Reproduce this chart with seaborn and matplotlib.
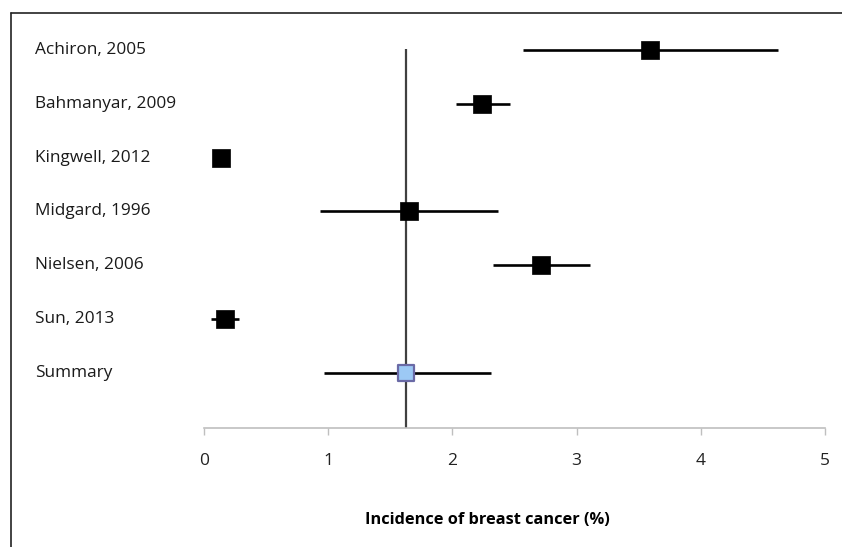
import matplotlib
matplotlib.use("Agg")
import matplotlib.pyplot as plt
import matplotlib.transforms as mtransforms
from matplotlib.lines import Line2D
import seaborn as sns
import pandas as pd

# data
studies = ["Achiron, 2005", "Bahmanyar, 2009", "Kingwell, 2012", "Midgard, 1996",
           "Nielsen, 2006", "Sun, 2013", "Summary"]
estimate = [3.59, 2.24, 0.14, 1.65, 2.71, 0.17, 1.63]
ci_low = [2.57, 2.03, 0.12, 0.93, 2.33, 0.06, 0.97]
ci_high = [4.62, 2.46, 0.16, 2.37, 3.11, 0.28, 2.31]
xticks = [0, 1, 2, 3, 4, 5]

df = pd.DataFrame({"study": studies, "est": estimate, "lo": ci_low, "hi": ci_high})
df["row"] = range(1, len(df) + 1)
df["kind"] = ["study"] * (len(df) - 1) + ["summary"]

sns.set_theme(style="white")
plt.rcParams["font.family"] = ["Open Sans", "DejaVu Sans"]

W, H = 842, 547
fig = plt.figure(figsize=(W / 100, H / 100), dpi=100)
ax = fig.add_axes([204 / W, 1 - 428 / H, 621 / W, 415 / H])

# summary reference line
summary_x = df.loc[df["kind"] == "summary", "est"].iloc[0]
ax.vlines(summary_x, 0.98, 8.03, color="#404040", lw=1.6, zorder=1)

# confidence intervals
ax.hlines(df["row"], df["lo"], df["hi"], color="black", lw=1.9, zorder=2)

# point estimates
sns.scatterplot(data=df[df["kind"] == "study"], x="est", y="row", marker="s", s=150,
                color="black", edgecolor="black", linewidth=0.5, ax=ax, zorder=3, legend=False)
sns.scatterplot(data=df[df["kind"] == "summary"], x="est", y="row", marker="s", s=130,
                color="#9CC9F5", edgecolor="#6A6AA6", linewidth=1.6, ax=ax, zorder=3, legend=False)

ax.set_xlim(0, 5)
ax.set_ylim(8.03, 0.312)
ax.set_xticks(xticks)
ax.set_xticklabels([str(t) for t in xticks], fontsize=12.5, color="#222222")
ax.set_yticks([])
ax.set_ylabel("")
ax.set_xlabel("")
ax.tick_params(axis="x", direction="out", length=5, width=1, color="#BFBFBF", pad=13, bottom=True)
for side in ["top", "right", "left"]:
    ax.spines[side].set_visible(False)
ax.spines["bottom"].set_color("#BFBFBF")
ax.spines["bottom"].set_linewidth(1.2)

# study labels on the left
trans = mtransforms.blended_transform_factory(fig.transFigure, ax.transData)
for _, r in df.iterrows():
    ax.text(35 / W, r["row"], r["study"], transform=trans, ha="left", va="center",
            fontsize=12.4, color="#1a1a1a")

fig.text(487 / W, 1 - 520 / H, "Incidence of breast cancer (%)", ha="center", va="center",
         fontsize=11.8, fontweight="bold", color="black")

# outer frame (only top and left visible)
fig.add_artist(Line2D([11 / W, 11 / W], [0, 1 - 13 / H], transform=fig.transFigure,
                      color="#222222", lw=1.2))
fig.add_artist(Line2D([11 / W, 1], [1 - 13 / H, 1 - 13 / H], transform=fig.transFigure,
                      color="#222222", lw=1.2))

fig.savefig("out.png", dpi=100)
